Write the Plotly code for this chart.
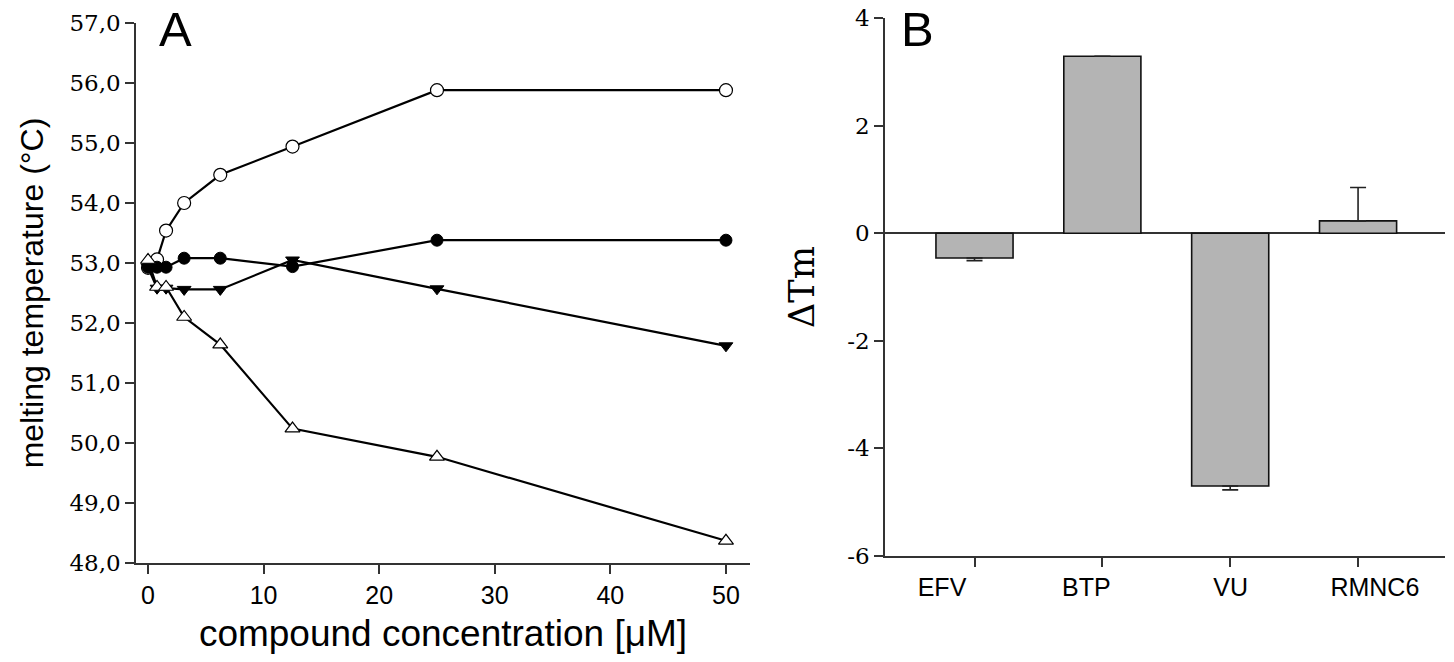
import plotly.graph_objects as go

# ---------------- data ----------------
concentration = [0, 0.78, 1.56, 3.125, 6.25, 12.5, 25, 50]
tm_open_circle = [52.92, 53.06, 53.54, 54.00, 54.47, 54.94, 55.88, 55.88]
tm_filled_circle = [52.93, 52.93, 52.93, 53.08, 53.08, 52.94, 53.38, 53.38]
tm_filled_tri_down = [52.93, 52.58, 52.58, 52.56, 52.56, 53.05, 52.57, 51.62]
tm_open_tri_up = [53.05, 52.60, 52.60, 52.10, 51.64, 50.24, 49.77, 48.37]

compounds = ["EFV", "BTP", "VU", "RMNC6"]
delta_tm = [-0.46, 3.29, -4.70, 0.23]
delta_err_plus = [0, 0, 0, 0.62]
delta_err_minus = [0.05, 0, 0.07, 0]

a_x_ticks = [0, 10, 20, 30, 40, 50]
a_y_ticks = [48, 49, 50, 51, 52, 53, 54, 55, 56, 57]
a_y_tick_labels = ["48,0", "49,0", "50,0", "51,0", "52,0", "53,0", "54,0", "55,0", "56,0", "57,0"]
b_y_ticks = [-6, -4, -2, 0, 2, 4]
b_y_tick_labels = ["-6", "-4", "-2", "0", "2", "4"]
b_label_pos = [0, 1, 2, 3]

# page body has an 8px margin; the figure is sized to fit inside the window
OFF = 8
W, H = 1454 - 2 * OFF, 662 - 2 * OFF


def px_x(v):
    return (v - OFF) / W


def px_y(v):
    return 1 - (v - OFF) / H


fig = go.Figure()

line_style = dict(color="black", width=2.2)
series = [
    (tm_open_circle, dict(symbol="circle", size=13, color="white", line=dict(color="black", width=1.2))),
    (tm_filled_circle, dict(symbol="circle", size=12, color="black", line=dict(color="black", width=1))),
    (tm_filled_tri_down, dict(symbol="triangle-down", size=12, color="black", line=dict(color="black", width=1))),
    (tm_open_tri_up, dict(symbol="triangle-up", size=13, color="white", line=dict(color="black", width=1.2))),
]
for ys, mk in series:
    fig.add_trace(go.Scatter(x=concentration, y=ys, mode="lines+markers",
                             line=line_style, marker=mk, xaxis="x", yaxis="y",
                             showlegend=False, cliponaxis=False))

fig.add_trace(go.Bar(x=compounds, y=delta_tm, width=0.603,
                     marker=dict(color="#b4b4b4", line=dict(color="#111111", width=1.6)),
                     error_y=dict(type="data", symmetric=False, array=delta_err_plus,
                                  arrayminus=delta_err_minus, color="#222222",
                                  thickness=1.6, width=8),
                     xaxis="x2", yaxis="y2", showlegend=False))
# carrier for the category label axis (no visible marks)
fig.add_trace(go.Scatter(x=[], y=[], xaxis="x3", yaxis="y2", showlegend=False, hoverinfo="skip"))

axis_line = dict(showline=True, linecolor="#333333", linewidth=1.5, ticks="outside",
                 tickcolor="#333333", tickwidth=1.5, ticklen=9, showgrid=False,
                 zeroline=False, automargin=False, ticklabeloverflow="allow")

fig.update_layout(
    width=W, height=H,
    margin=dict(l=0, r=0, t=0, b=0, autoexpand=False),
    paper_bgcolor="white", plot_bgcolor="white",
    xaxis=dict(domain=[px_x(136), px_x(750)], range=[-1.04, 52.08], anchor="y",
               tickvals=a_x_ticks,
               tickfont=dict(family="Liberation Sans, Arial", size=25, color="black"),
               title=dict(text="compound concentration [μM]",
                          font=dict(family="Liberation Sans, Arial", size=37, color="black"),
                          standoff=12),
               **axis_line),
    yaxis=dict(domain=[px_y(563), px_y(23)], range=[48, 57], anchor="x",
               tickvals=a_y_ticks, ticktext=a_y_tick_labels,
               tickfont=dict(family="DejaVu Serif", size=23, color="black"),
               title=dict(text="melting temperature (°C)",
                          font=dict(family="Liberation Sans, Arial", size=32, color="black"),
                          standoff=16),
               **axis_line),
    xaxis2=dict(domain=[px_x(885), px_x(1445)], range=[-0.70, 3.68], anchor="y2",
                type="category", showticklabels=False,
                **axis_line),
    xaxis3=dict(domain=[px_x(885), px_x(1445)], range=[-0.395, 3.486], anchor="y2",
                overlaying="x2", side="bottom", showline=False, showgrid=False, zeroline=False,
                ticks="outside", ticklen=9, tickcolor="rgba(0,0,0,0)", automargin=False,
                ticklabeloverflow="allow",
                tickvals=b_label_pos, ticktext=compounds,
                tickfont=dict(family="Liberation Sans, Arial", size=25, color="black")),
    yaxis2=dict(domain=[px_y(556), px_y(18)], range=[-6, 4], anchor="x2",
                tickvals=b_y_ticks, ticktext=b_y_tick_labels,
                tickfont=dict(family="DejaVu Serif", size=23, color="black"),
                title=dict(text="ΔTm",
                           font=dict(family="DejaVu Serif", size=35, color="black"),
                           standoff=22),
                **axis_line),
    annotations=[
        dict(text="A", x=px_x(175), y=px_y(29), xref="paper", yref="paper",
             showarrow=False, font=dict(family="Liberation Sans, Arial", size=49, color="black"),
             xanchor="center", yanchor="middle"),
        dict(text="B", x=px_x(917), y=px_y(29), xref="paper", yref="paper",
             showarrow=False, font=dict(family="Liberation Sans, Arial", size=49, color="black"),
             xanchor="center", yanchor="middle"),
    ],
)
fig.update_layout(yaxis2=dict(zeroline=True, zerolinecolor="#333333", zerolinewidth=1.5))

fig.write_html("out.html")
